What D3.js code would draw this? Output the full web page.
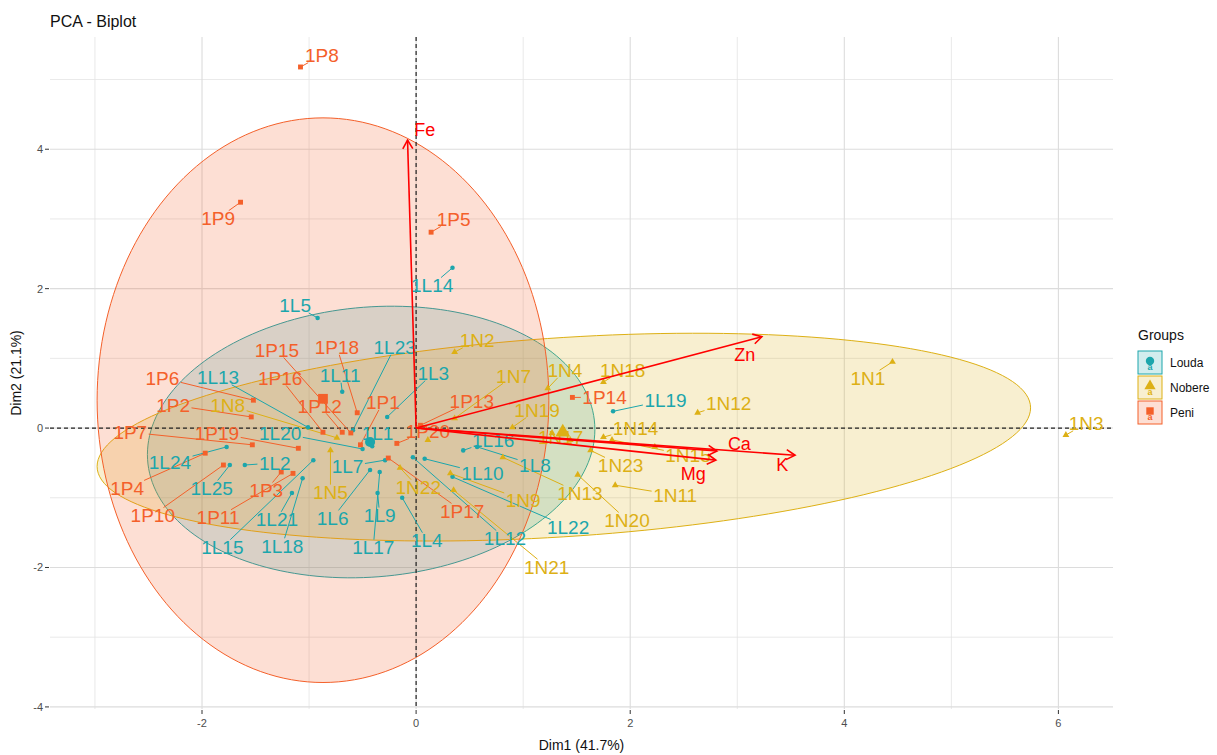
<!DOCTYPE html>
<html>
<head>
<meta charset="utf-8">
<script src="https://cdn.jsdelivr.net/npm/d3@7"></script>
<style>
  body { margin: 0; background: #ffffff; }
  text { font-family: "Liberation Sans", Arial, sans-serif; }
</style>
</head>
<body>
<div id="svgOutput"></div>
<script>
// groups and individuals (Dim1 / Dim2 coordinates)

const groups = ["Louda", "Nobere", "Peni"];

const indNames = [
  "1L1", "1L2", "1L3", "1L4", "1L5", "1L6", "1L7", "1L8", "1L9", "1L10",
  "1L11", "1L12", "1L13", "1L14", "1L15", "1L16", "1L17", "1L18", "1L19", "1L20",
  "1L21", "1L22", "1L23", "1L24", "1L25",
  "1N1", "1N2", "1N3", "1N4", "1N5", "1N6", "1N7", "1N8", "1N9", "1N10",
  "1N11", "1N12", "1N13", "1N14", "1N15", "1N16", "1N17", "1N18", "1N19", "1N20",
  "1N21", "1N22", "1N23",
  "1P1", "1P2", "1P3", "1P4", "1P5", "1P6", "1P7", "1P8", "1P9", "1P10",
  "1P11", "1P12", "1P13", "1P14", "1P15", "1P16", "1P17", "1P18", "1P19", "1P20"
];

const indGroup = [].concat(
  Array(25).fill("Louda"),
  Array(23).fill("Nobere"),
  Array(20).fill("Peni")
);

const indDim1 = [
  -0.41, -1.60, -0.27, -0.13, -0.92, -0.43, -0.29, 0.57, -0.36, 0.08,
  -0.69, -0.03, -1.01, 0.34, -0.96, 0.44, -0.34, -1.06, 1.84, -0.50,
  -1.16, 0.34, -0.59, -1.77, -1.74,
  4.45, 0.36, 6.07, 1.23, -0.80, 0.11, 0.36, -0.74, 0.32, 1.27,
  1.86, 2.63, 0.81, 1.75, 1.83, 2.23, 1.44, 1.75, 0.90, 1.51,
  0.35, -0.15, 1.63,
  -0.52, -1.54, -1.26, -1.97, 0.14, -1.52, -1.53, -1.08, -1.64, -1.80,
  -1.15, -0.69, 0.04, 1.46, -0.61, -0.87, -0.26, -0.55, -1.10, -0.18
];

const indDim2 = [
  -0.26, -0.53, 0.16, -1.00, 1.58, -0.60, -0.46, -0.27, -0.93, -0.44,
  0.52, -0.42, 0.01, 2.30, -0.46, -0.32, -0.63, -0.72, 0.24, -0.30,
  -0.93, -0.70, -0.03, -0.27, -0.53,
  0.95, 1.09, -0.10, 0.57, -0.32, -0.17, 0.14, -0.14, -0.65, -0.07,
  -0.82, 0.22, -0.42, -0.13, -0.17, -0.27, -0.17, 0.66, 0.01, -0.67,
  -0.89, -0.57, -0.32,
  -0.24, 0.16, -0.63, -0.36, 2.81, 0.40, -0.24, 5.18, 3.24, -0.53,
  -0.65, -0.06, 0.04, 0.44, -0.07, -0.06, -0.43, 0.22, -0.29, -0.22
];

// where the repelled labels ended up (null = label dropped)
const labelDim1 = [
  -0.36, -1.32, 0.16, 0.10, -1.13, -0.78, -0.64, 1.11, -0.34, 0.62,
  -0.71, 0.83, -1.85, 0.15, -1.81, 0.72, -0.40, -1.25, 2.33, -1.27,
  -1.30, 1.42, -0.20, -2.30, -1.91,
  4.22, 0.57, 6.26, 1.39, -0.80, null, 0.91, -1.76, 1.00, null,
  2.42, 2.92, 1.53, 2.05, 2.54, null, 1.35, 1.93, 1.13, 1.97,
  1.22, 0.02, 1.91,
  -0.31, -2.27, -1.40, -2.70, 0.35, -2.37, -2.67, -0.88, -1.85, -2.46,
  -1.85, -0.90, 0.52, 1.76, -1.30, -1.27, 0.43, -0.74, -1.86, 0.11
];

const labelDim2 = [
  -0.07, -0.50, 0.79, -1.61, 1.76, -1.29, -0.55, -0.53, -1.25, -0.65,
  0.76, -1.58, 0.73, 2.05, -1.71, -0.17, -1.71, -1.69, 0.40, -0.07,
  -1.31, -1.42, 1.16, -0.49, -0.86,
  0.72, 1.26, 0.07, 0.83, -0.92, null, 0.75, 0.33, -1.03, null,
  -0.96, 0.36, -0.93, 0.00, -0.39, null, -0.13, 0.83, 0.26, -1.32,
  -1.99, -0.85, -0.53,
  0.37, 0.33, -0.89, -0.86, 3.00, 0.72, -0.06, 5.35, 3.01, -1.25,
  -1.28, 0.32, 0.39, 0.44, 1.12, 0.72, -1.19, 1.16, -0.07, -0.04
];

// group means
const meanDim1 = [-0.43, 1.37, -0.87];
const meanDim2 = [-0.20, -0.06, 0.42];

// concentration ellipses: centre, half width, half height, y-shift at the x extreme
const ellipseDim1 = [-0.42, 1.38, -0.87];
const ellipseDim2 = [-0.20, -0.13, 0.40];
const ellipseRx = [2.09, 4.36, 2.11];
const ellipseRy = [1.94, 1.43, 4.05];
const ellipseTilt = [0.18, 0.42, 0.00];

// variables
const varNames = ["Fe", "Zn", "Ca", "Mg", "K"];
const varDim1 = [-0.08, 3.23, 2.81, 2.80, 3.54];
const varDim2 = [4.13, 1.31, -0.33, -0.46, -0.39];
const varLabelDim1 = [0.08, 3.07, 3.02, 2.59, 3.42];
const varLabelDim2 = [4.28, 1.06, -0.22, -0.65, -0.53];

// ticks
const xTicks = [-2, 0, 2, 4, 6];
const yTicks = [-4, -2, 0, 2, 4];
const xMinor = [-3, -1, 1, 3, 5];
const yMinor = [-3, -1, 1, 3, 5];

(function () {
  document.addEventListener('DOMContentLoaded', function () {

    // config

    const width = 1217;
    const height = 755;
    const margin = { top: 37, right: 104, bottom: 46, left: 50 };
    const palette = { Louda: "#1CA6AC", Nobere: "#DDB015", Peni: "#F4602A" };
    const fillAlpha = 0.2;
    const labelSize = 19;

    const svg = d3.select("#svgOutput")
      .append("svg")
      .attr("width", width)
      .attr("height", height)
      .attr("viewBox", [0, 0, width, height]);

    svg.append("rect")
      .attr("width", width)
      .attr("height", height)
      .attr("fill", "#ffffff");

    // scales

    const x = d3.scaleLinear()
      .domain([-3.42, 6.51])
      .range([margin.left, width - margin.right]);

    const y = d3.scaleLinear()
      .domain([-4.03, 5.61])
      .range([height - margin.bottom, margin.top]);

    const x0 = margin.left, x1 = width - margin.right;
    const y0 = margin.top, y1 = height - margin.bottom;

    svg.append("clipPath")
      .attr("id", "panelClip")
      .append("rect")
      .attr("x", x0).attr("y", y0)
      .attr("width", x1 - x0).attr("height", y1 - y0);

    // grid

    const grid = svg.append("g");

    grid.selectAll("line.xminor").data(xMinor).enter().append("line")
      .attr("x1", d => x(d)).attr("x2", d => x(d))
      .attr("y1", y0).attr("y2", y1)
      .attr("stroke", "#e3e3e3").attr("stroke-width", 0.8);

    grid.selectAll("line.yminor").data(yMinor).enter().append("line")
      .attr("x1", x0).attr("x2", x1)
      .attr("y1", d => y(d)).attr("y2", d => y(d))
      .attr("stroke", "#e3e3e3").attr("stroke-width", 0.8);

    grid.selectAll("line.xmajor").data(xTicks).enter().append("line")
      .attr("x1", d => x(d)).attr("x2", d => x(d))
      .attr("y1", y0).attr("y2", y1)
      .attr("stroke", "#dcdcdc").attr("stroke-width", 1.1);

    grid.selectAll("line.ymajor").data(yTicks).enter().append("line")
      .attr("x1", x0).attr("x2", x1)
      .attr("y1", d => y(d)).attr("y2", d => y(d))
      .attr("stroke", "#dcdcdc").attr("stroke-width", 1.1);

    const panel = svg.append("g").attr("clip-path", "url(#panelClip)");

    // ellipses

    const steps = d3.range(0, 2 * Math.PI + 0.001, Math.PI / 90);

    groups.forEach(function (g, i) {
      const line = d3.line()
        .x(t => x(ellipseDim1[i] + ellipseRx[i] * Math.cos(t)))
        .y(t => y(ellipseDim2[i] + ellipseTilt[i] * Math.cos(t) + ellipseRy[i] * Math.sin(t)));

      panel.append("path")
        .attr("d", line(steps) + "Z")
        .attr("fill", palette[g])
        .attr("fill-opacity", fillAlpha)
        .attr("stroke", palette[g])
        .attr("stroke-width", 1);
    });

    // reference lines at zero

    panel.append("line")
      .attr("x1", x0).attr("x2", x1)
      .attr("y1", y(0)).attr("y2", y(0))
      .attr("stroke", "#222").attr("stroke-width", 1.2)
      .attr("stroke-dasharray", "4,3");

    panel.append("line")
      .attr("x1", x(0)).attr("x2", x(0))
      .attr("y1", y0).attr("y2", y1)
      .attr("stroke", "#222").attr("stroke-width", 1.2)
      .attr("stroke-dasharray", "4,3");

    // individuals

    const inds = indNames.map(function (name, i) {
      return {
        name: name,
        group: indGroup[i],
        px: x(indDim1[i]),
        py: y(indDim2[i]),
        lx: labelDim1[i] === null ? null : x(labelDim1[i]),
        ly: labelDim2[i] === null ? null : y(labelDim2[i])
      };
    });

    const shapeOf = { Louda: d3.symbolCircle, Nobere: d3.symbolTriangle, Peni: d3.symbolSquare };
    const sizeOf = { Louda: 16, Nobere: 20, Peni: 24 };

    const segLayer = panel.append("g");
    const pointLayer = panel.append("g");
    const labelLayer = panel.append("g");

    pointLayer.selectAll("path.ind")
      .data(inds)
      .enter()
      .append("path")
      .attr("class", "ind")
      .attr("transform", d => "translate(" + d.px + "," + d.py + ")")
      .attr("d", d => d3.symbol().type(shapeOf[d.group]).size(sizeOf[d.group])())
      .attr("fill", d => palette[d.group]);

    // group means

    pointLayer.selectAll("path.mean")
      .data(groups)
      .enter()
      .append("path")
      .attr("class", "mean")
      .attr("transform", (g, i) => "translate(" + x(meanDim1[i]) + "," + y(meanDim2[i]) + ")")
      .attr("d", g => d3.symbol().type(shapeOf[g]).size(g === "Louda" ? 80 : 95)())
      .attr("fill", g => palette[g]);

    // labels, then segments from point to label box

    const labelled = inds.filter(d => d.lx !== null);

    labelLayer.selectAll("text")
      .data(labelled)
      .enter()
      .append("text")
      .attr("x", d => d.lx)
      .attr("y", d => d.ly)
      .attr("dy", "0.36em")
      .attr("text-anchor", "middle")
      .attr("font-size", labelSize)
      .attr("fill", d => palette[d.group])
      .text(d => d.name)
      .each(function (d) { d.w = this.getComputedTextLength(); });

    labelled.forEach(function (d) {
      const hw = d.w / 2 + 1.5;
      const hh = labelSize * 0.4;
      const dx = d.px - d.lx;
      const dy = d.py - d.ly;
      if (Math.abs(dx) <= hw && Math.abs(dy) <= hh) return;
      const t = Math.min(
        dx === 0 ? Infinity : hw / Math.abs(dx),
        dy === 0 ? Infinity : hh / Math.abs(dy)
      );
      const ex = d.lx + dx * t;
      const ey = d.ly + dy * t;
      const len = Math.hypot(d.px - ex, d.py - ey);
      if (len < 4) return;
      segLayer.append("line")
        .attr("x1", ex).attr("y1", ey)
        .attr("x2", d.px).attr("y2", d.py)
        .attr("stroke", palette[d.group])
        .attr("stroke-width", 1);
    });

    // variable arrows

    const arrowLayer = panel.append("g");

    varNames.forEach(function (v, i) {
      const ax = x(0), ay = y(0);
      const bx = x(varDim1[i]), by = y(varDim2[i]);
      const ang = Math.atan2(by - ay, bx - ax);
      const head = 10;

      arrowLayer.append("line")
        .attr("x1", ax).attr("y1", ay)
        .attr("x2", bx).attr("y2", by)
        .attr("stroke", "#ff0000").attr("stroke-width", 1.6);

      arrowLayer.append("path")
        .attr("d", "M" + (bx - head * Math.cos(ang - Math.PI / 6)) + "," + (by - head * Math.sin(ang - Math.PI / 6)) +
          "L" + bx + "," + by +
          "L" + (bx - head * Math.cos(ang + Math.PI / 6)) + "," + (by - head * Math.sin(ang + Math.PI / 6)))
        .attr("fill", "none")
        .attr("stroke", "#ff0000").attr("stroke-width", 1.6);

      arrowLayer.append("text")
        .attr("x", x(varLabelDim1[i]))
        .attr("y", y(varLabelDim2[i]))
        .attr("dy", "0.36em")
        .attr("text-anchor", "middle")
        .attr("font-size", 18)
        .attr("fill", "#ff0000")
        .text(v);
    });

    // axes

    const axes = svg.append("g").attr("fill", "#4d4d4d").attr("font-size", 11);

    axes.selectAll("line.xtick").data(xTicks).enter().append("line")
      .attr("x1", d => x(d)).attr("x2", d => x(d))
      .attr("y1", y1 + 1).attr("y2", y1 + 5)
      .attr("stroke", "#333");

    axes.selectAll("text.xtick").data(xTicks).enter().append("text")
      .attr("x", d => x(d)).attr("y", y1 + 18)
      .attr("text-anchor", "middle")
      .text(d => d);

    axes.selectAll("line.ytick").data(yTicks).enter().append("line")
      .attr("x1", x0 - 5).attr("x2", x0 - 1)
      .attr("y1", d => y(d)).attr("y2", d => y(d))
      .attr("stroke", "#333");

    axes.selectAll("text.ytick").data(yTicks).enter().append("text")
      .attr("x", x0 - 7).attr("y", d => y(d))
      .attr("dy", "0.36em")
      .attr("text-anchor", "end")
      .text(d => d);

    svg.append("text")
      .attr("x", (x0 + x1) / 2).attr("y", height - 5)
      .attr("text-anchor", "middle")
      .attr("font-size", 14)
      .attr("fill", "#111")
      .text("Dim1 (41.7%)");

    svg.append("text")
      .attr("transform", "translate(21," + ((y0 + y1) / 2) + ") rotate(-90)")
      .attr("text-anchor", "middle")
      .attr("font-size", 14)
      .attr("fill", "#111")
      .text("Dim2 (21.1%)");

    // title

    svg.append("text")
      .attr("x", x0).attr("y", 27)
      .attr("font-size", 16)
      .attr("fill", "#111")
      .text("PCA - Biplot");

    // legend

    const legend = svg.append("g").attr("transform", "translate(1138,0)");

    legend.append("text")
      .attr("x", 0).attr("y", 340)
      .attr("font-size", 14)
      .attr("fill", "#111")
      .text("Groups");

    const keys = legend.selectAll("g.key")
      .data(groups)
      .enter()
      .append("g")
      .attr("class", "key")
      .attr("transform", (g, i) => "translate(0," + (351 + i * 25) + ")");

    keys.append("rect")
      .attr("width", 24).attr("height", 23)
      .attr("fill", g => palette[g])
      .attr("fill-opacity", fillAlpha)
      .attr("stroke", g => palette[g])
      .attr("stroke-width", 1);

    keys.append("path")
      .attr("transform", "translate(12,10)")
      .attr("d", g => d3.symbol().type(shapeOf[g]).size(55)())
      .attr("fill", g => palette[g]);

    keys.append("text")
      .attr("x", 12).attr("y", 19)
      .attr("text-anchor", "middle")
      .attr("font-size", 9)
      .attr("font-weight", "bold")
      .attr("fill", g => palette[g])
      .text("a");

    keys.append("text")
      .attr("x", 32).attr("y", 12)
      .attr("dy", "0.36em")
      .attr("font-size", 12)
      .attr("fill", "#111")
      .text(g => g);
  });
})();
</script>
</body>
</html>
